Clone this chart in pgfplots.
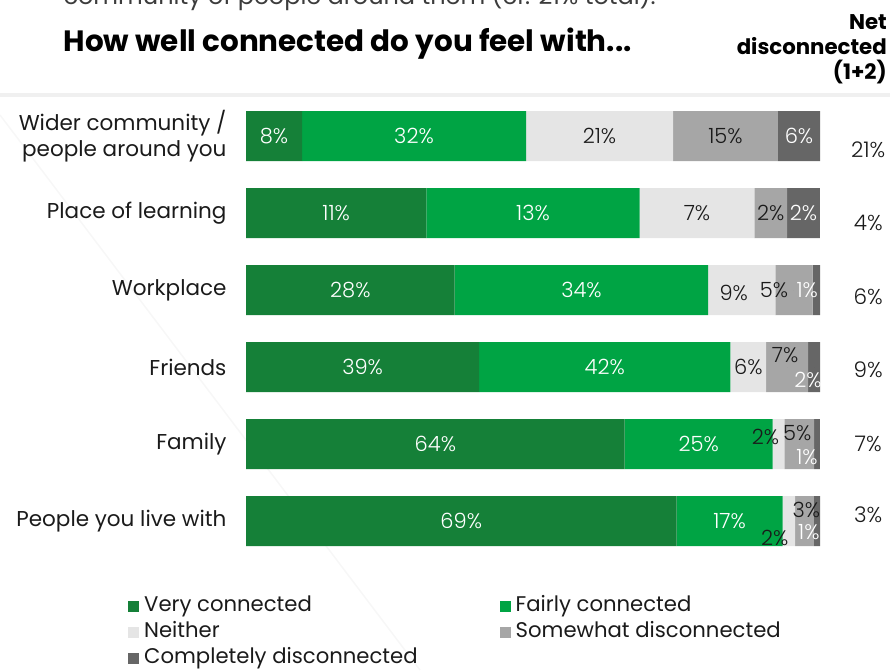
\documentclass[border=0pt]{standalone}
\usepackage{pgfplots}
\pgfplotsset{compat=1.18}
\usepackage{pgfplotstable}
\usepackage{fontspec}
\setmainfont{Poppins}
\IfFontExistsTF{Poppins Light}{\newfontfamily\lightfont{Poppins Light}}{\newfontfamily\lightfont{Poppins}}

\definecolor{cvc}{RGB}{21,128,56}
\definecolor{cfc}{RGB}{0,164,68}
\definecolor{cne}{RGB}{229,229,229}
\definecolor{csd}{RGB}{166,166,166}
\definecolor{ccd}{RGB}{102,102,102}
\definecolor{txt}{RGB}{26,26,26}

% printed values (vc..cd), bar shares (w..) as drawn, net disconnected, label offsets
\pgfplotstableread{
idx vc fc ne sd cd net wvc wfc wne wsd wcd ny nex ney sdx sdy cdx cdy
5 8 32 21 15 6 21 9.76 39.02 25.61 18.29 7.32 -0.18 0 0 0 0 0 0
4 11 13 7 2 2 4 31.43 37.14 20.00 5.71 5.71 -0.13 0 0 0 0 0 0
3 28 34 9 5 1 6 36.36 44.16 11.69 6.49 1.30 -0.09 -8 -3 -20 0 -9 0
2 39 42 6 7 2 9 40.63 43.75 6.25 7.29 2.08 -0.03 0 0 -2 12 -6 -13
1 64 25 2 5 1 7 65.98 25.77 2.06 5.15 1.03 0 -13 7 -2 11 -10 -13
0 69 17 2 3 1 3 75.00 18.48 2.17 3.26 1.09 0.08 -14 -17 2 11 -8 -11
}\datatable

\pgfplotsset{
  common/.style={
    at={(246pt,110.5pt)}, anchor=south west,
    scale only axis, width=574pt, height=462pt,
    xmin=0, xmax=100, ymin=-0.5, ymax=5.5,
    clip=false,
  },
  lab/.style={
    only marks, mark=*, mark size=0pt, mark options={draw=none,fill=none},
    point meta=explicit symbolic,
    nodes near coords={\pgfplotspointmeta\%},
    every node near coord/.append style={anchor=center, inner sep=0pt,
      font=\lightfont\fontsize{21}{24}\selectfont},
  },
}

\begin{document}
\begin{tikzpicture}[x=1pt,y=1pt]
% header
\node[anchor=base west, font=\fontsize{24}{28}\selectfont, text=txt!85] at (60,665)
  {community of people around them (cf. 21\% total).};
\node[anchor=base west, font=\fontsize{29.4}{33}\selectfont\bfseries, text=black] at (60,618)
  {How well connected do you feel with...};
\node[anchor=north east, align=right, font=\fontsize{21.3}{25}\selectfont\bfseries, text=black, inner sep=0pt] at (887,656)
  {Net\\disconnected\\(1+2)};
\fill[black!6] (0,573) rectangle (890,577);
\draw[black!3, line width=1.5pt] (0,555) -- (420,0);

\begin{axis}[common,
  xbar stacked, bar width=50pt,
  axis line style={draw=none}, tick style={draw=none},
  xtick=\empty,
  ytick={0,...,5},
  yticklabels={People you live with,Family,Friends,Workplace,Place of learning,{Wider community /\\people around you}},
  yticklabel style={align=right, font=\fontsize{21.5}{26}\selectfont, text=txt, xshift=-16pt},
  legend columns=2,
  legend cell align=left,
  legend image code/.code={\fill[#1,draw=none] (0pt,-5.5pt) rectangle (11pt,5.5pt);},
  legend style={at={(-0.2056,-0.0725)}, anchor=north west, draw=none, fill=none,
    inner sep=0pt, font=\fontsize{21.2}{22}\selectfont, text=txt,
    nodes={text height=15pt, text depth=5pt, inner ysep=3pt, inner xsep=5pt},
    /tikz/every even column/.append style={column sep=77pt}},
]
\addplot[fill=cvc, draw=none] table[x=wvc, y=idx] {\datatable};
\addplot[fill=cfc, draw=none] table[x=wfc, y=idx] {\datatable};
\addplot[fill=cne, draw=none] table[x=wne, y=idx] {\datatable};
\addplot[fill=csd, draw=none] table[x=wsd, y=idx] {\datatable};
\addplot[fill=ccd, draw=none] table[x=wcd, y=idx] {\datatable};
\legend{Very connected, Fairly connected, Neither, Somewhat disconnected, Completely disconnected}
\end{axis}

\begin{axis}[common, hide axis]
\addplot[lab, every node near coord/.append style={text=white}]
  table[x expr={\thisrow{wvc}/2}, y=idx, meta=vc] {\datatable};
\addplot[lab, every node near coord/.append style={text=white}]
  table[x expr={\thisrow{wvc}+\thisrow{wfc}/2}, y=idx, meta=fc] {\datatable};
\addplot[lab, visualization depends on={\thisrow{nex}\as\dx},
  visualization depends on={\thisrow{ney}\as\dy},
  every node near coord/.append style={text=txt, xshift=\dx, yshift=\dy}]
  table[x expr={\thisrow{wvc}+\thisrow{wfc}+\thisrow{wne}/2}, y=idx, meta=ne] {\datatable};
\addplot[lab, visualization depends on={\thisrow{sdx}\as\dx},
  visualization depends on={\thisrow{sdy}\as\dy},
  every node near coord/.append style={text=txt, xshift=\dx, yshift=\dy}]
  table[x expr={\thisrow{wvc}+\thisrow{wfc}+\thisrow{wne}+\thisrow{wsd}/2}, y=idx, meta=sd] {\datatable};
\addplot[lab, visualization depends on={\thisrow{cdx}\as\dx},
  visualization depends on={\thisrow{cdy}\as\dy},
  every node near coord/.append style={text=white, xshift=\dx, yshift=\dy}]
  table[x expr={\thisrow{wvc}+\thisrow{wfc}+\thisrow{wne}+\thisrow{wsd}+\thisrow{wcd}/2}, y=idx, meta=cd] {\datatable};
\addplot[lab, every node near coord/.append style={text=txt, font=\lightfont\fontsize{21.5}{24}\selectfont}]
  table[x expr=108.4, y expr={\thisrow{idx}+\thisrow{ny}}, meta=net] {\datatable};
\end{axis}
\pgfresetboundingbox
\useasboundingbox (0,0) rectangle (890,670);
\end{tikzpicture}
\end{document}
